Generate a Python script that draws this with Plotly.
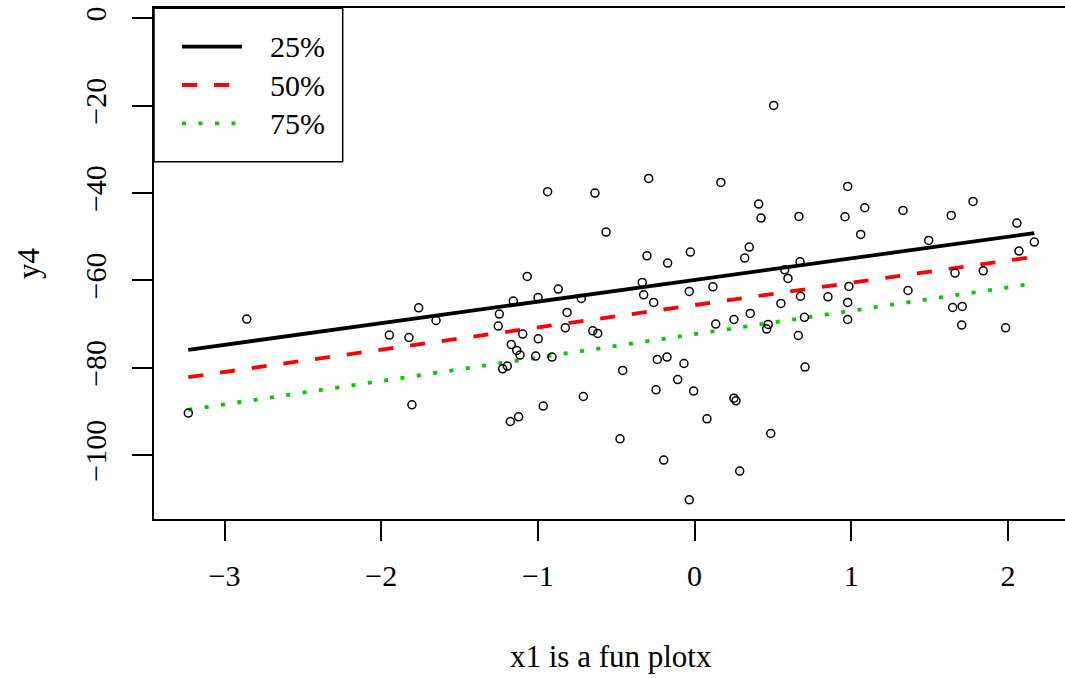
import plotly.graph_objects as go

# ---- data ----
x1 = [-3.231, -2.858, -1.948, -1.823, -1.761, -1.650, -1.804,
      -0.938, -0.636, -0.565, -1.068, -0.870, -0.999, -1.157, -0.723, -1.246, -0.814,
      -1.253, -0.825, -1.097, -0.998, -0.650, -0.618, -1.170, -1.135, -1.114, -1.014,
      -0.910, -1.195, -1.225, -0.459, -0.710, -0.966, -1.123, -1.176, -0.476,
      0.505, -0.293, 0.168, 0.409, 0.424, 0.666, -0.304, -0.172, -0.027, 0.349, 0.320,
      0.673, 0.575, 0.596, -0.334, -0.325, -0.261, -0.034, 0.117, 0.551, 0.676, 0.355,
      0.701, 0.135, 0.251, 0.470, 0.460, 0.662, 0.705, -0.176, -0.238, -0.068, -0.108,
      -0.246, -0.006, 0.251, 0.264, 0.079, 0.486, -0.197, 0.288, -0.034,
      0.977, 0.960, 1.086, 1.060, 1.330, 1.638, 1.777, 2.057, 1.494, 2.168, 2.070,
      1.662, 1.842, 0.985, 1.362, 0.851, 0.977, 0.977, 1.647, 1.708, 1.705, 1.985]
y4 = [-90.36, -68.83, -72.50, -73.05, -66.25, -69.16, -88.46,
      -39.68, -39.98, -48.91, -59.08, -61.97, -63.89, -64.71, -64.12, -67.69, -67.32,
      -70.44, -70.83, -72.27, -73.35, -71.51, -72.13, -74.65, -76.02, -77.08, -77.31,
      -77.54, -79.60, -80.22, -80.60, -86.56, -88.76, -91.21, -92.28, -96.24,
      -19.92, -36.64, -37.55, -42.50, -45.71, -45.34, -54.34, -56.01, -53.49, -52.35, -54.87,
      -55.71, -57.55, -59.54, -60.45, -63.27, -65.03, -62.51, -61.44, -65.26, -63.61, -67.55,
      -68.42, -69.98, -68.93, -70.07, -71.12, -72.59, -79.83, -77.54, -78.09, -79.00, -82.67,
      -85.03, -85.32, -86.93, -87.54, -91.67, -95.03, -101.12, -103.64, -110.21,
      -38.47, -45.41, -43.35, -49.46, -43.97, -45.11, -41.91, -46.85, -50.84, -51.20, -53.26,
      -58.30, -57.78, -61.37, -62.29, -63.73, -65.03, -68.93, -66.18, -65.95, -70.21, -70.83]

quant_labels = ["25%", "50%", "75%"]
quant_intercepts = [-59.88, -65.63, -72.29]
quant_slopes = [4.949, 5.104, 5.359]

x_ticks = [-3, -2, -1, 0, 1, 2]
y_ticks = [0, -20, -40, -60, -80, -100]

# ---- styles ----
FONT = "Liberation Serif"
colors = ["#000000", "#FF0000", "#00CD00"]
dashes = ["solid", "15px,17px", "4px,12.5px"]
LW = 3.8

W, H = 1065, 678
ML, MR, MT, MB = 154, 0, 8, 159
PW, PH = W - ML - MR, H - MT - MB


def px(xp):
    return (xp - ML) / PW


def py(yp):
    return (H - MB - yp) / PH


fig = go.Figure()

xmin, xmax = min(x1), max(x1)
for lab, b0, b1, col, dsh in zip(quant_labels, quant_intercepts, quant_slopes, colors, dashes):
    fig.add_trace(go.Scatter(
        x=[xmin, xmax], y=[b0 + b1 * xmin, b0 + b1 * xmax],
        mode="lines", name=lab, showlegend=False,
        line=dict(color=col, width=LW, dash=dsh)))

fig.add_trace(go.Scatter(
    x=x1, y=y4, mode="markers", showlegend=False,
    marker=dict(symbol="circle-open", size=8, color="black",
                line=dict(color="black", width=1.5))))

# legend box (drawn as in the reference)
shapes = [dict(type="rect", xref="paper", yref="paper",
               x0=px(154), x1=px(342.7), y0=py(161.7), y1=py(8.3),
               line=dict(color="black", width=1.5), fillcolor="white", layer="above")]
annotations = []
row_y = [46.7, 85.0, 123.3]
for lab, col, dsh, ry in zip(quant_labels, colors, dashes, row_y):
    shapes.append(dict(type="line", xref="paper", yref="paper",
                       x0=px(182), x1=px(242), y0=py(ry), y1=py(ry),
                       line=dict(color=col, width=LW, dash=dsh), layer="above"))
    annotations.append(dict(xref="paper", yref="paper", x=px(268), y=py(ry),
                            text=lab, showarrow=False, xanchor="left", yanchor="middle",
                            font=dict(family=FONT, size=30, color="black")))

# axis titles
annotations.append(dict(xref="paper", yref="paper", x=px(611), y=py(657),
                        text="x1 is a fun plotx", showarrow=False,
                        xanchor="center", yanchor="middle",
                        font=dict(family=FONT, size=31, color="black")))
annotations.append(dict(xref="paper", yref="paper", x=px(28), y=py(263),
                        text="y4", showarrow=False, textangle=-90,
                        xanchor="center", yanchor="middle",
                        font=dict(family=FONT, size=31, color="black")))

fig.update_layout(
    width=W, height=H,
    margin=dict(l=ML, r=MR, t=MT, b=MB, pad=0),
    plot_bgcolor="white", paper_bgcolor="white",
    font=dict(family=FONT, size=30, color="black"),
    shapes=shapes, annotations=annotations,
    xaxis=dict(range=[-3.450, 2.364], tickvals=x_ticks, ticks="outside",
               ticklen=20, tickwidth=1.5, tickcolor="black",
               showline=True, mirror=True, linecolor="black", linewidth=1.5,
               showgrid=False, zeroline=False, ticklabelstandoff=9,
               tickfont=dict(family=FONT, size=30)),
    yaxis=dict(range=[-114.6, 2.38], tickvals=y_ticks, ticks="outside",
               ticklen=20, tickwidth=1.5, tickcolor="black",
               showline=True, mirror=False, linecolor="black", linewidth=1.5,
               showgrid=False, zeroline=False, tickangle=-90, ticklabelstandoff=14,
               tickfont=dict(family=FONT, size=30)),
)

fig.write_html("out.html")
